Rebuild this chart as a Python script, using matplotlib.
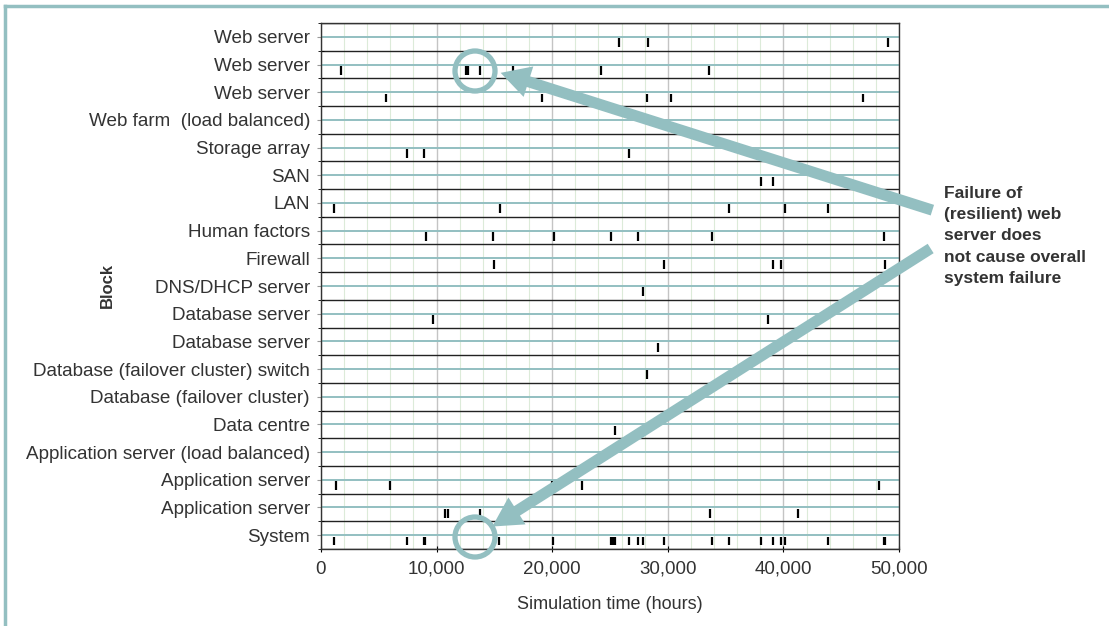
import matplotlib
matplotlib.use("Agg")
import matplotlib.pyplot as plt
import numpy as np
from matplotlib.patches import FancyArrowPatch, Circle
from matplotlib.lines import Line2D

plt.rcParams['font.family'] = ['Liberation Sans', 'DejaVu Sans']

# blocks, top to bottom
blocks = ["Web server", "Web server", "Web server", "Web farm  (load balanced)",
          "Storage array", "SAN", "LAN", "Human factors", "Firewall",
          "DNS/DHCP server", "Database server", "Database server",
          "Database (failover cluster) switch", "Database (failover cluster)",
          "Data centre", "Application server (load balanced)",
          "Application server", "Application server", "System"]

# failure times (hours) for each block, same order
failures = [
    [25780, 28290, 49050],
    [1700, 12520, 12740, 13750, 16580, 24220, 33560],
    [5620, 19090, 28170, 30250, 46860],
    [],
    [7410, 8910, 26620],
    [38030, 39070],
    [1150, 15480, 35290, 40140, 43860],
    [9050, 14850, 20160, 25060, 27390, 33800, 48700],
    [14990, 29640, 39100, 39790, 48790],
    [27830],
    [9690, 38670],
    [29150],
    [28200],
    [],
    [25430],
    [],
    [1270, 5970, 20010, 22580, 48240],
    [10730, 10960, 13750, 33620, 41290],
    [1150, 7440, 8910, 9030, 15420, 20100, 25060, 25290, 25430, 26640,
     27390, 27830, 29640, 33800, 35290, 38060, 39100, 39790, 40140,
     43890, 48670, 48790],
]

xtick_vals = [0, 10000, 20000, 30000, 40000, 50000]
xtick_labels = ["0", "10,000", "20,000", "30,000", "40,000", "50,000"]

note = "Failure of\n(resilient) web\nserver does\nnot cause overall\nsystem failure"

teal = "#93bfc1"
txt = "#333333"
W, H = 1109, 626

fig = plt.figure(figsize=(W / 100, H / 100), dpi=100)
ax = fig.add_axes([321 / W, 1 - 549 / H, 578 / W, 526 / H])

n = len(blocks)
ys = np.arange(n)[::-1]  # top block has highest y

# vertical grid
for x in np.arange(0, 50001, 2000):
    major = x % 10000 == 0
    ax.axvline(x, color="#c4c4c4" if major else "#dcebd9",
               lw=1.0 if major else 0.8, zorder=0)

# row separators and centre lines
for b in np.arange(-0.5, n, 1.0):
    ax.axhline(b, color="#222222", lw=1.0, zorder=1)
for y in ys:
    ax.axhline(y, color=teal, lw=1.4, zorder=1)

# failure marks
for y, times in zip(ys, failures):
    if times:
        ax.vlines(times, y - 0.37, y - 0.05, color="black", lw=1.6, zorder=3)

ax.set_xlim(0, 50000)
ax.set_ylim(-0.5, n - 0.5)
ax.set_yticks(ys)
ax.set_yticklabels(blocks, fontsize=13.6, color=txt)
ax.set_yticks(np.arange(-0.5, n, 1.0), minor=True)
ax.tick_params(axis="y", which="major", length=3, color="#999999", pad=5)
ax.tick_params(axis="y", which="minor", length=4, direction="inout", color="black")
ax.set_xticks(xtick_vals)
ax.set_xticklabels(xtick_labels, fontsize=13.5, color=txt)
ax.tick_params(axis="x", length=5, direction="inout", color="black", pad=6)
for s in ax.spines.values():
    s.set_color("#333333")
    s.set_linewidth(1.0)

ax.set_xlabel("Simulation time (hours)", fontsize=13, color=txt)
ax.xaxis.set_label_coords(0.5, -(596 - 549) / 526)
ax.set_ylabel("Block", fontsize=12, color=txt, fontweight="bold")
ax.yaxis.set_label_coords((115 - 321) / 578, 0.5)


def fp(x, y):
    return (x / W, 1 - y / H)


# frame of the figure panel (top and left)
fig.add_artist(Line2D([5 / W, 1], [1 - 6 / H, 1 - 6 / H], transform=fig.transFigure,
                      color=teal, lw=2.5))
fig.add_artist(Line2D([5 / W, 5 / W], [1 - 6 / H, 0], transform=fig.transFigure,
                      color=teal, lw=2.5))

# annotation text
fig.text(944 / W, 1 - 186 / H, note, transform=fig.transFigure, ha="left", va="top",
         fontsize=12.5, fontweight="bold", color=txt, linespacing=1.52)

# arrows
for tail, tip in [((935, 211), (498, 72)), ((933, 247), (490, 528))]:
    arr = FancyArrowPatch(fp(*tail), fp(*tip), transform=fig.transFigure,
                          arrowstyle="simple,head_width=2.3,head_length=2.1,tail_width=0.8",
                          mutation_scale=10, color=teal, lw=0, zorder=10)
    fig.add_artist(arr)

# circles
for cx, cy in [(475, 71), (475, 537)]:
    circ = Circle((cx, H - cy), 20, transform=None, fill=False, edgecolor=teal,
                  lw=3.8, zorder=10)
    fig.add_artist(circ)

fig.savefig("out.png", dpi=100)
